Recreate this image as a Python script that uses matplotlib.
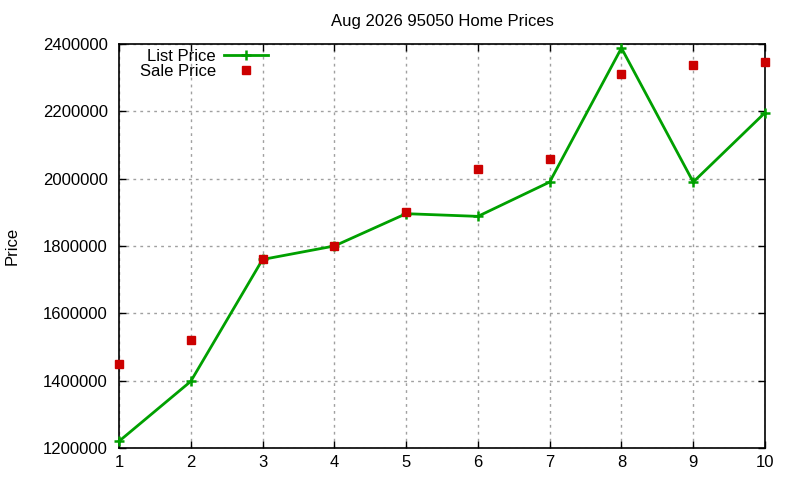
import matplotlib
matplotlib.use("Agg")
import matplotlib.pyplot as plt
from matplotlib.ticker import FixedLocator, FuncFormatter

plt.rcParams['font.family'] = ['Liberation Sans', 'DejaVu Sans']

months = [1, 2, 3, 4, 5, 6, 7, 8, 9, 10]
list_price = [1220000, 1398000, 1760000, 1800000, 1896000, 1888000, 1990000, 2388000, 1990000, 2196000]
sale_price = [1450000, 1522000, 1760000, 1800000, 1900000, 2028000, 2058000, 2310000, 2337000, 2348000]
y_ticks = [1200000, 1400000, 1600000, 1800000, 2000000, 2200000, 2400000]
title = "Aug 2026 95050 Home Prices"

fig = plt.figure(figsize=(8, 4.8), dpi=100)
ax = fig.add_axes([119/800, 32/480, 646/800, 404/480])

ax.plot(months, list_price, color='#00a000', lw=2, marker='+', ms=7.5, mew=1.8,
        label='List Price', zorder=3, clip_on=False)
ax.plot(months, sale_price, color='#cc0000', lw=0, marker='s', ms=5.5,
        label='Sale Price', zorder=4, clip_on=False)

ax.set_xlim(1, 10)
ax.set_ylim(1200000, 2400000)
ax.xaxis.set_major_locator(FixedLocator(months))
ax.yaxis.set_major_locator(FixedLocator(y_ticks))
ax.yaxis.set_major_formatter(FuncFormatter(lambda v, p: f"{int(v)}"))
ax.tick_params(direction='in', length=5, width=1, top=True, right=True,
               labelsize=12, colors='black')
ax.tick_params(axis='y', pad=8)
ax.tick_params(axis='x', pad=5)
ax.grid(True, color='#a0a0a0', linestyle=(0, (2, 3)), linewidth=1)
for s in ax.spines.values():
    s.set_linewidth(1.2)

ax.set_title(title, fontsize=12, pad=13)
fig.text(12/800, (480-246)/480, "Price", rotation=90, ha='center', va='center', fontsize=12)

leg = ax.legend(loc='upper right', bbox_to_anchor=(0.248, 1.017), frameon=False,
                markerfirst=False, fontsize=12, handlelength=2.6, handletextpad=0.5,
                labelspacing=0.0, borderpad=0.2, numpoints=1)

fig.savefig("out.png", dpi=100)
